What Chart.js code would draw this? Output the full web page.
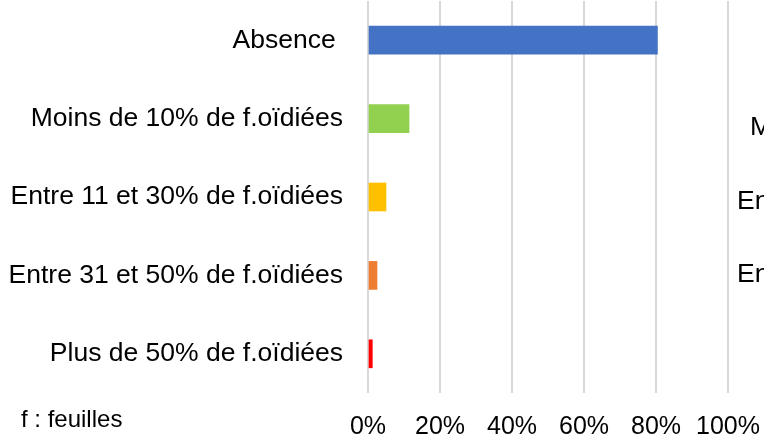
<!DOCTYPE html>
<html>
<head>
<meta charset="utf-8">
<script src="https://cdn.jsdelivr.net/npm/chart.js@4.4.0/dist/chart.umd.min.js"></script>
<style>
  html, body { margin: 0; padding: 0; background: #fff; }
  #wrap { width: 764px; height: 438px; position: relative; }
</style>
</head>
<body>
<div id="wrap"><canvas id="chart"></canvas></div>
<script>
// Data
const categories = [
  "Absence ",
  "Moins de 10% de f.oïdiées",
  "Entre 11 et 30% de f.oïdiées",
  "Entre 31 et 50% de f.oïdiées",
  "Plus de 50% de f.oïdiées",
];
const values = [80.4, 11.4, 5.0, 2.5, 1.2];
const barColors = ["#4472C4", "#92D050", "#FFC000", "#ED7D31", "#FF0000"];
const xTicks = [0, 20, 40, 60, 80, 100];
const footnote = "f : feuilles";
// cut-off labels from the neighbouring chart on the right
const neighbourLabels = ["M", "En", "En"];

const FONT = "'Liberation Sans', Arial, sans-serif";

// Draws the footnote and the partial labels of the next chart
const extraText = {
  id: "extraText",
  afterDraw(chart) {
    const ctx = chart.ctx;
    ctx.save();
    ctx.fillStyle = "#000";
    ctx.textBaseline = "alphabetic";
    ctx.textAlign = "left";
    ctx.font = "24px " + FONT;
    ctx.fillText(footnote, 21, 427);
    ctx.font = "26.5px " + FONT;
    ctx.fillText(neighbourLabels[0], 750, 135);
    ctx.fillText(neighbourLabels[1], 737, 209);
    ctx.fillText(neighbourLabels[2], 737, 282);
    ctx.restore();
  },
};

const ctx = document.getElementById("chart").getContext("2d");
new Chart(ctx, {
  type: "bar",
  data: {
    labels: categories,
    datasets: [
      {
        data: values,
        backgroundColor: barColors,
        borderWidth: 0,
        barThickness: 28,
      },
    ],
  },
  options: {
    indexAxis: "y",
    responsive: true,
    maintainAspectRatio: false,
    animation: false,
    layout: { padding: { top: 1, right: 36, bottom: 0, left: 0 } },
    plugins: {
      legend: { display: false },
      tooltip: { enabled: false },
    },
    scales: {
      x: {
        min: 0,
        max: 100,
        afterBuildTicks: (scale) => {
          scale.ticks = xTicks.map((v) => ({ value: v }));
        },
        afterFit: (scale) => {
          scale.height = 45;
          scale.paddingLeft = 0;
          scale.paddingRight = 0;
        },
        grid: { color: "#d9d9d9", lineWidth: 2, drawTicks: false },
        border: { display: false },
        ticks: {
          padding: 19,
          color: "#000",
          font: { family: FONT, size: 25 },
          maxRotation: 0,
          callback: (v) => v + "%",
        },
      },
      y: {
        afterFit: (scale) => {
          scale.width = 368;
          scale.paddingTop = 0;
          scale.paddingBottom = 0;
        },
        grid: { display: false, drawTicks: false },
        border: { display: false },
        ticks: {
          padding: 25,
          color: "#000",
          font: { family: FONT, size: 26.5 },
        },
      },
    },
  },
  plugins: [extraText],
});
</script>
</body>
</html>
